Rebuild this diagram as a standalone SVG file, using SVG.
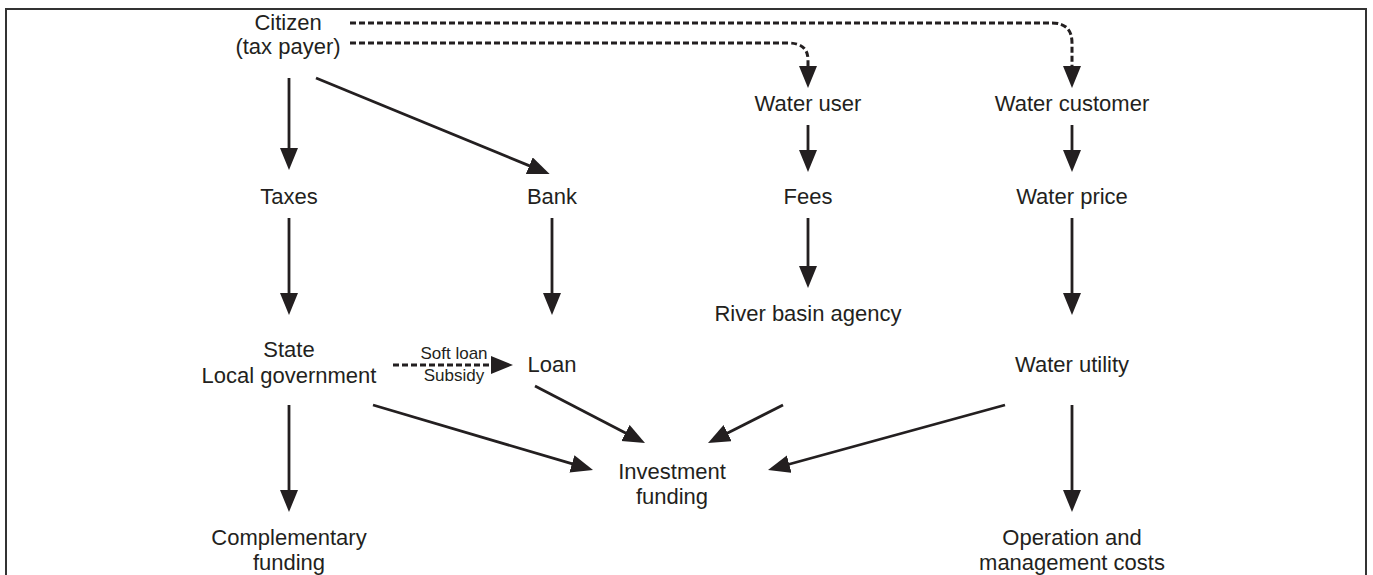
<svg xmlns="http://www.w3.org/2000/svg" width="1373" height="575" viewBox="0 0 1373 575">
<defs>
<style>
.t{font-family:"Liberation Sans",Arial,sans-serif;font-size:22px;fill:#231f20;text-anchor:middle}
.s{font-family:"Liberation Sans",Arial,sans-serif;font-size:17px;fill:#231f20;text-anchor:middle}
.c{stroke:#231f20;stroke-width:2.8;fill:none;marker-end:url(#ah)}
.d{stroke:#231f20;stroke-width:3;fill:none;stroke-dasharray:6 3;marker-end:url(#ah)}
</style>
<marker id="ah" markerUnits="userSpaceOnUse" markerWidth="24" markerHeight="20" refX="5" refY="9" orient="auto">
<path d="M0,0 L22,9 L0,18 Z" fill="#231f20"/>
</marker>
</defs>
<rect width="1373" height="575" fill="#fff"/>
<path d="M6,577 V9 H1366 V577" fill="none" stroke="#333" stroke-width="2"/>
<g id="connectors">
<path class="c" d="M289,78 V153"/>
<path class="c" d="M316,78 L533.9,167.6"/>
<path class="c" d="M289,218 V298"/>
<path class="c" d="M552,218 V298"/>
<path class="c" d="M808,125 V155"/>
<path class="c" d="M808,218 V271"/>
<path class="c" d="M1072,125 V155"/>
<path class="c" d="M1072,218 V298"/>
<path class="c" d="M289,405 V495"/>
<path class="c" d="M373,405 L576.7,465.2"/>
<path class="c" d="M535,386 L629.9,435.2"/>
<path class="c" d="M783,405 L723.2,435.3"/>
<path class="c" d="M1005,405 L784.4,465.5"/>
<path class="c" d="M1072,405 V495"/>
<path class="d" d="M393,365 H496"/>
<path class="d" d="M350,23 H1052 Q1072,23 1072,43 V71"/>
<path class="d" d="M350,43 H788 Q808,43 808,60 V71"/>
</g>
<g id="n-citizen"><text class="t" x="288" y="30">Citizen</text><text class="t" x="288" y="54">(tax payer)</text></g>
<g id="n-water-user"><text class="t" x="808" y="111">Water user</text></g>
<g id="n-water-customer"><text class="t" x="1072" y="111">Water customer</text></g>
<g id="n-taxes"><text class="t" x="289" y="204">Taxes</text></g>
<g id="n-bank"><text class="t" x="552" y="204">Bank</text></g>
<g id="n-fees"><text class="t" x="808" y="204">Fees</text></g>
<g id="n-water-price"><text class="t" x="1072" y="204">Water price</text></g>
<g id="n-river-basin"><text class="t" x="808" y="321">River basin agency</text></g>
<g id="n-state"><text class="t" x="289" y="357">State</text><text class="t" x="289" y="383">Local government</text></g>
<g id="n-loan"><text class="t" x="552" y="372">Loan</text></g>
<g id="n-water-utility"><text class="t" x="1072" y="372">Water utility</text></g>
<g id="n-investment"><text class="t" x="672" y="479">Investment</text><text class="t" x="672" y="504">funding</text></g>
<g id="n-complementary"><text class="t" x="289" y="545">Complementary</text><text class="t" x="289" y="570">funding</text></g>
<g id="n-om"><text class="t" x="1072" y="545">Operation and</text><text class="t" x="1072" y="570">management costs</text></g>
<g id="soft-loan-label"><text class="s" x="454" y="359">Soft loan</text><text class="s" x="454" y="381">Subsidy</text></g>
</svg>
